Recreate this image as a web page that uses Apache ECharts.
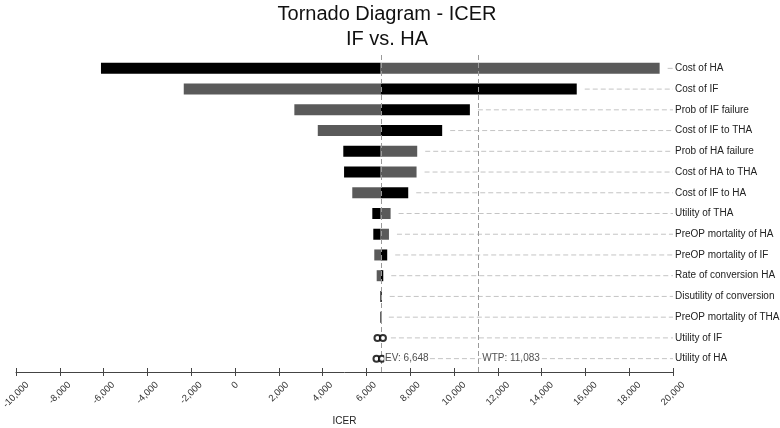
<!DOCTYPE html>
<html>
<head>
<meta charset="utf-8">
<script src="https://cdn.jsdelivr.net/npm/echarts@6/dist/echarts.min.js"></script>
<style>html,body{margin:0;padding:0;background:#fff;}#c{width:780px;height:428px;}</style>
</head>
<body>
<div id="c"></div>
<script>
var categories = ['Cost of HA','Cost of IF','Prob of IF failure','Cost of IF to THA','Prob of HA failure','Cost of HA to THA','Cost of IF to HA','Utility of THA','PreOP mortality of HA','PreOP mortality of IF','Rate of conversion HA','Disutility of conversion','PreOP mortality of THA','Utility of IF','Utility of HA'];
var lowValues  = [-6120, -2340, 2710, 3780, 4945, 4980, 5355, 6270, 6315, 6360, 6470, 6640, 6640, null, null];
var highValues = [19390, 15605, 10725, 9460, 8320, 8290, 7910, 7105, 7030, 6950, 6770, 6700, 6660, null, null];
var lowIsBlack = [true, false, false, false, true, true, false, true, true, false, false, false, true, false, false];
var infinityRows = ['Utility of IF','Utility of IF','Utility of HA','Utility of HA'];
var infinityValues = [6505, 6755, 6460, 6710];
var evValue = 6648;
var wtpValue = 11083;
var xTickValues = [-10000, -8000, -6000, -4000, -2000, 0, 2000, 4000, 6000, 8000, 10000, 12000, 14000, 16000, 18000, 20000];

var BLACK = '#000000', GRAY = '#5a5a5a';
var FONT = '"Liberation Sans", Arial, sans-serif';

var barData = categories.map(function (c, i) {
  var dashStart = highValues[i] == null ? -Infinity : highValues[i];
  infinityRows.forEach(function (r, k) {
    if (r === c) dashStart = Math.max(dashStart, infinityValues[k]);
  });
  return [lowValues[i] == null ? 0 : lowValues[i], highValues[i] == null ? 0 : highValues[i], i, lowIsBlack[i] ? 1 : 0, dashStart, lowValues[i] == null ? 0 : 1];
});

function fmt(v) { return v.toLocaleString('en-US'); }

var measureCtx = document.createElement('canvas').getContext('2d');
var TICK_FONT_SIZE = 9.5;
measureCtx.font = TICK_FONT_SIZE + 'px ' + FONT;

var xMin = xTickValues[0], xMax = xTickValues[xTickValues.length - 1];
var xInterval = xTickValues[1] - xTickValues[0];

var chart = echarts.init(document.getElementById('c'));
chart.setOption({
  animation: false,
  backgroundColor: '#fff',
  title: {
    text: 'Tornado Diagram - ICER\nIF vs. HA',
    left: 387, top: 2, padding: 0,
    textAlign: 'center',
    textStyle: {fontFamily: FONT, fontSize: 20, fontWeight: 'normal', color: '#111', lineHeight: 25}
  },
  grid: {left: 16, right: 107, top: 58, height: 311, containLabel: false, outerBoundsMode: 'none'},
  xAxis: [{
    type: 'value', min: xMin, max: xMax, interval: xInterval, offset: 3,
    name: 'ICER', nameLocation: 'middle', nameGap: 44,
    nameTextStyle: {fontFamily: FONT, fontSize: 10, color: '#222'},
    axisLine: {show: true, lineStyle: {color: '#444', width: 1}},
    axisTick: {show: true, length: 4, lineStyle: {color: '#444'}},
    axisLabel: {show: false},
    splitLine: {show: false}
  }, {
    type: 'value', min: xMin, max: xMax, interval: xInterval, position: 'bottom', offset: 3,
    axisLine: {show: false},
    axisTick: {show: true, inside: true, length: 4, lineStyle: {color: '#444'}},
    axisLabel: {show: false}, splitLine: {show: false}
  }],
  yAxis: {
    type: 'category', data: categories, inverse: true, position: 'right',
    axisLine: {show: false}, axisTick: {show: false}, splitLine: {show: false},
    axisLabel: {fontFamily: FONT, fontSize: 10, color: '#222', margin: 2}
  },
  series: [{
    type: 'custom',
    xAxisIndex: 0, yAxisIndex: 0,
    data: barData,
    encode: {x: [0, 1], y: 2},
    renderItem: function (params, api) {
      var lo = api.value(0), hi = api.value(1), idx = api.value(2), blackLow = api.value(3), ds = api.value(4), hasBar = api.value(5);
      var h = 11;
      var pe = api.coord([evValue, idx]);
      var cy = pe[1], xe = pe[0];
      var children = [];
      if (hasBar) {
        var xl = api.coord([lo, idx])[0], xh = api.coord([hi, idx])[0];
        children.push({type: 'rect', shape: {x: xl, y: cy - h / 2, width: Math.max(xe - xl, 0.8), height: h}, style: {fill: blackLow ? BLACK : GRAY}});
        children.push({type: 'rect', shape: {x: xe, y: cy - h / 2, width: Math.max(xh - xe, 0.8), height: h}, style: {fill: blackLow ? GRAY : BLACK}});
      }
      var xs = api.coord([ds, idx])[0] + 8;
      var xm = api.coord([xMax, idx])[0];
      if (xm > xs) {
        children.push({type: 'line', shape: {x1: xs, y1: cy, x2: xm, y2: cy}, style: {stroke: '#c4c4c4', lineWidth: 1, lineDash: [5, 3]}});
      }
      return {type: 'group', children: children};
    },
    z: 2
  }, {
    type: 'custom',
    xAxisIndex: 0, yAxisIndex: 0,
    data: [[evValue, 0], [wtpValue, 0]],
    encode: {x: 0, y: 1},
    renderItem: function (params, api) {
      var cs = params.coordSys;
      var x = Math.round(api.coord([api.value(0), 0])[0]) + 0.5;
      return {type: 'line', shape: {x1: x, y1: cs.y - 3, x2: x, y2: cs.y + cs.height + 3}, style: {stroke: '#9a9a9a', lineWidth: 1, lineDash: [5, 3]}};
    },
    z: 4
  }, {
    type: 'custom',
    xAxisIndex: 0, yAxisIndex: 0,
    clip: false,
    data: xTickValues.map(function (v) { return [v, 0]; }),
    encode: {x: 0, y: 1},
    renderItem: function (params, api) {
      var cs = params.coordSys;
      var v = api.value(0);
      var txt = fmt(v);
      var w = measureCtx.measureText(txt).width;
      var hh = TICK_FONT_SIZE;
      var half = (w * 0.7071 + hh * 0.7071) / 2;
      var x = api.coord([v, 0])[0];
      var axisY = cs.y + cs.height + 3;
      return {type: 'text', x: x, y: axisY + 8 + half, rotation: Math.PI / 4,
        style: {text: txt, align: 'center', verticalAlign: 'middle', font: TICK_FONT_SIZE + 'px ' + FONT, fill: '#333'}};
    },
    z: 3
  }, {
    type: 'scatter',
    xAxisIndex: 0, yAxisIndex: 0,
    data: infinityValues.map(function (v, k) { return [v, categories.indexOf(infinityRows[k])]; }),
    symbol: 'emptyCircle', symbolSize: 6,
    itemStyle: {color: '#000', borderColor: '#000', borderWidth: 1.8},
    z: 5
  }, {
    type: 'scatter',
    xAxisIndex: 0, yAxisIndex: 0,
    data: [[evValue, 14, 'EV: ' + fmt(evValue)], [wtpValue, 14, 'WTP: ' + fmt(wtpValue)]],
    symbolSize: 1,
    itemStyle: {color: 'rgba(0,0,0,0)'},
    label: {show: true, position: 'right', distance: 3,
      formatter: function (p) { return p.data[2]; },
      fontFamily: FONT, fontSize: 10, color: '#222', backgroundColor: '#fff', padding: [0, 1]},
    z: 6
  }]
});
</script>
</body>
</html>
